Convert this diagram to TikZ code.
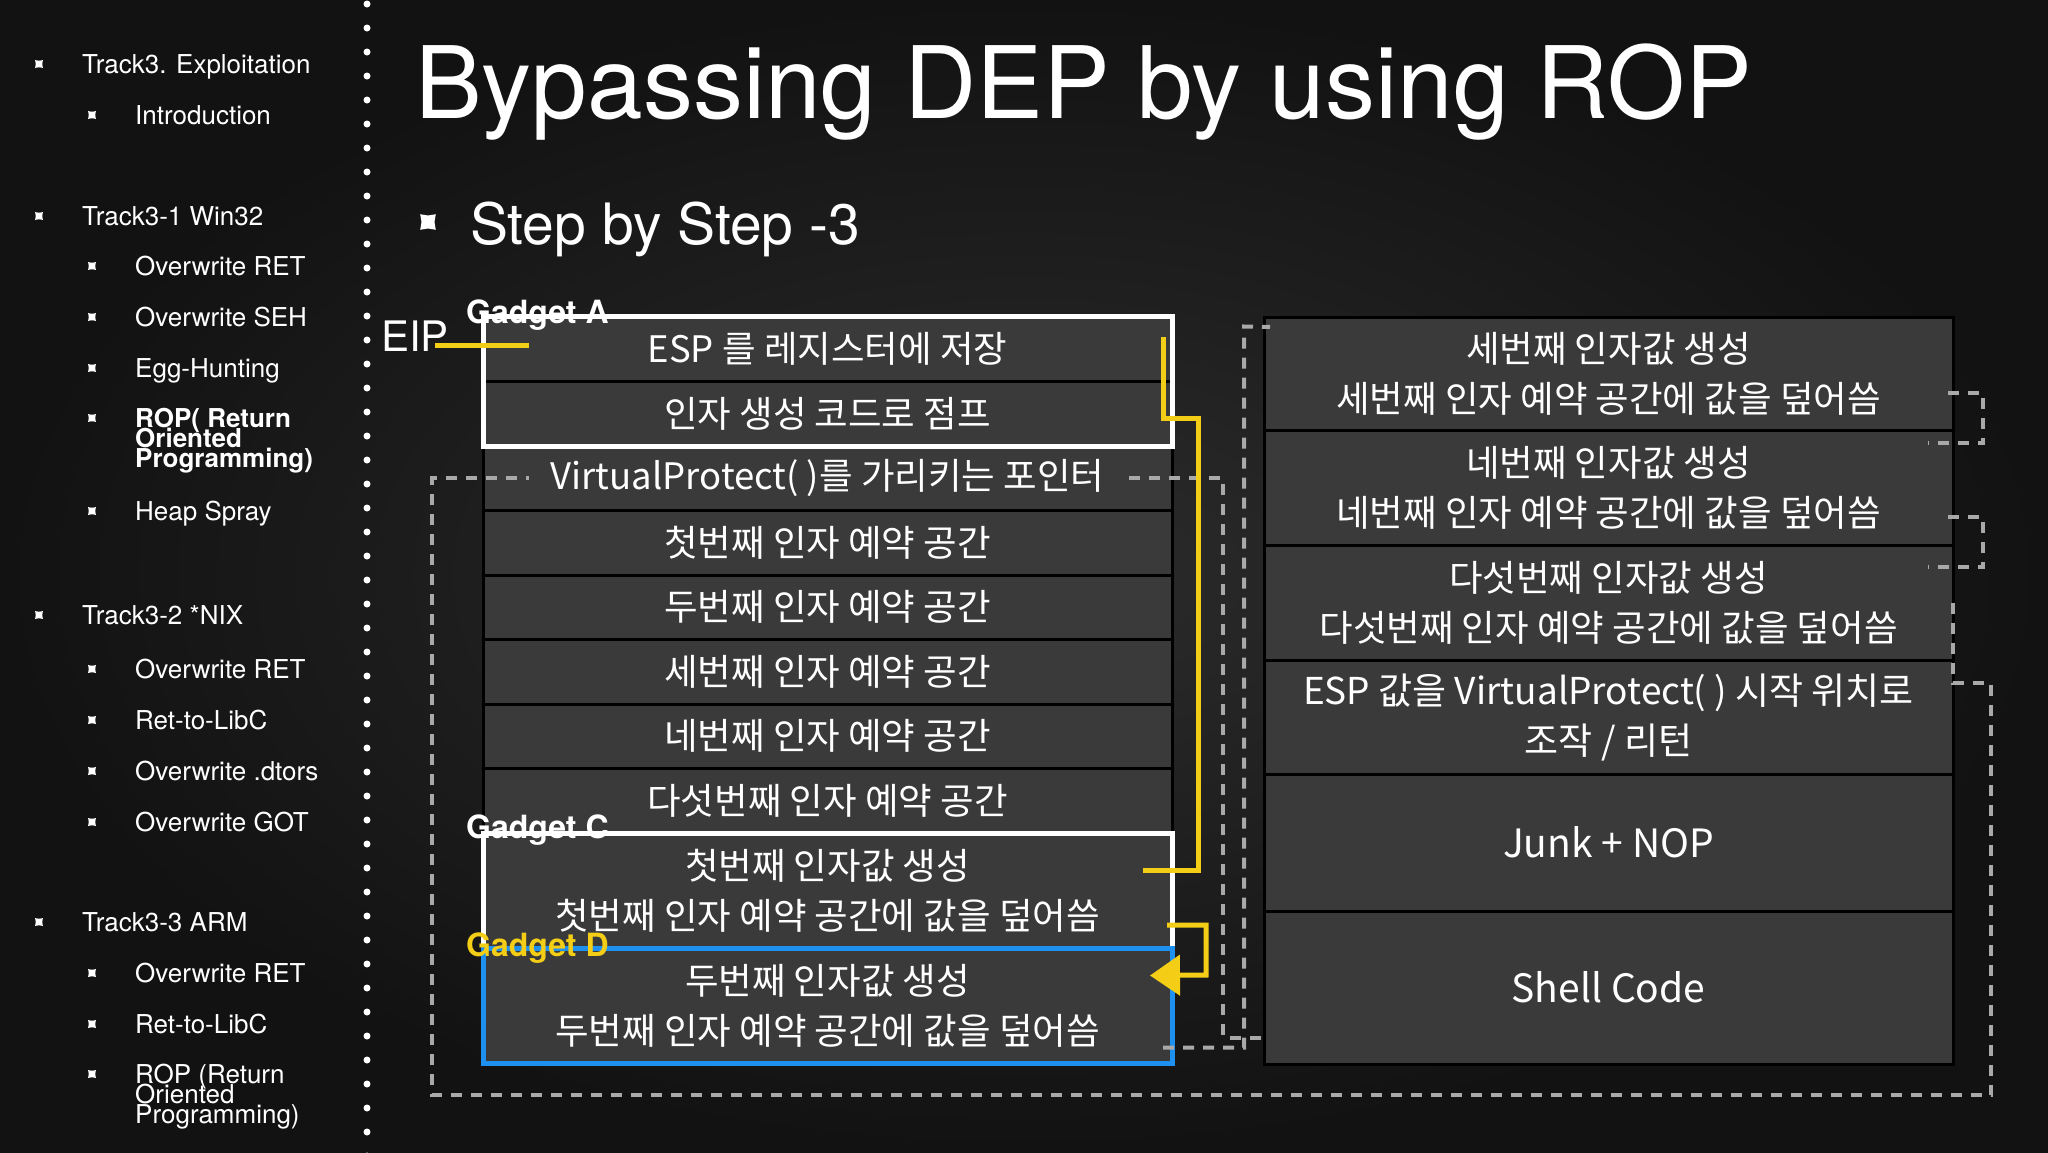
\documentclass[tikz,border=0pt]{standalone}
\usepackage{fontspec}
\setmainfont{TeX Gyre Heros}
\newfontfamily\kr{Noto Sans CJK KR}
\usetikzlibrary{positioning, arrows.meta, shapes.geometric}
\definecolor{bgdark}{HTML}{121212}
\definecolor{bgmid}{HTML}{2C2C2C}
\definecolor{rowgray}{HTML}{3A3A3A}
\definecolor{linkgray}{HTML}{A9A9A9}
\definecolor{chalkyellow}{HTML}{F4CE16}
\definecolor{gadgetblue}{HTML}{1E90F0}
\newcommand\tightlines{\lineskiplimit-30pt\relax}

\begin{document}
\begin{tikzpicture}[x=1pt, y=-1pt,
    cell/.style={draw=black, line width=3pt, fill=rowgray, minimum width=689pt,
      outer sep=0pt, inner sep=0pt, align=center, text=white,
      font=\kr\fontsize{36.5}{50}\selectfont},
    bul/.style={star, star points=4, star point ratio=1.7, shape border rotate=45,
      fill=white, inner sep=0pt, minimum size=11pt},
    item/.style={anchor=base west, text=white, inner sep=0pt,
      font=\fontsize{26}{20}\selectfont\tightlines},
    tag/.style={anchor=west, inner sep=0pt, font=\bfseries\fontsize{32}{32}\selectfont},
    link/.style={draw=linkgray, line width=4pt, dash pattern=on 11pt off 9pt},
    chalk/.style={draw=chalkyellow, line width=5pt}]

        \useasboundingbox (0,0) rectangle (2048,1152);
        \shade[inner color=bgmid, outer color=bgdark] (0,0) rectangle (2048,1152);

        % Sidebar
        \foreach \n/\y/\txt in {1/73/Track3. Exploitation, 2/225/Track3-1 Win32,
                                3/624/Track3-2 *NIX, 4/931/Track3-3 ARM}
          {\node[bul] (ba\n) at (39,\y-9) {};
           \node[item] (ta\n) at (82,\y) {\txt};}
        \foreach \n/\y/\txt in {1/124/Introduction, 2/275/Overwrite RET, 3/326/Overwrite SEH,
                                4/377/Egg-Hunting, 5/520/Heap Spray, 6/678/Overwrite RET,
                                7/729/Ret-to-LibC, 8/780/Overwrite .dtors, 9/831/Overwrite GOT,
                                10/982/Overwrite RET, 11/1033/Ret-to-LibC}
          {\node[bul] (bb\n) at (92,\y-9) {};
           \node[item] (tb\n) at (135,\y) {\txt};}
        \node[bul] (bb12) at (92,418) {};
        \node[item, anchor=north west, align=left,
              font=\bfseries\fontsize{26}{20}\selectfont\tightlines] (tb12) at (135,408)
              {ROP( Return\\Oriented\\Programming)};
        \node[bul] (bb13) at (92,1074) {};
        \node[item, anchor=north west, align=left] (tb13) at (135,1064)
              {ROP (Return\\Oriented\\Programming)};
        \draw[white, line width=7pt, line cap=round, dash pattern=on 0pt off 24pt]
              (367,4) -- (367,1160);

        % Title
        \node[anchor=base west, inner sep=0pt, text=white,
              font=\fontsize{100}{100}\selectfont] (title) at (415,118)
              {Bypassing DEP by using ROP};
        \node[bul, minimum size=22pt] (stepbul) at (428,222) {};
        \node[anchor=base west, inner sep=0pt, text=white,
              font=\fontsize{57}{57}\selectfont] (step) at (470,244) {Step by Step -3};
        \node[anchor=base west, inner sep=0pt, text=white,
              font=\fontsize{42}{42}\selectfont] (eip) at (381,351) {EIP};

        % Stack, left column
        \node[cell, anchor=north west, minimum height=65pt] (a1) at (483,316) {ESP 를 레지스터에 저장};
        \node[cell, below=0pt of a1, minimum height=65pt] (a2) {인자 생성 코드로 점프};
        \node[cell, below=0pt of a2, minimum height=64.5pt] (p0) {VirtualProtect( )를 가리키는 포인터};
        \node[cell, below=0pt of p0, minimum height=64.5pt] (s1) {첫번째 인자 예약 공간};
        \node[cell, below=0pt of s1, minimum height=64.5pt] (s2) {두번째 인자 예약 공간};
        \node[cell, below=0pt of s2, minimum height=64.5pt] (s3) {세번째 인자 예약 공간};
        \node[cell, below=0pt of s3, minimum height=64.5pt] (s4) {네번째 인자 예약 공간};
        \node[cell, below=0pt of s4, minimum height=64.5pt] (s5) {다섯번째 인자 예약 공간};
        \node[cell, below=0pt of s5, minimum height=115pt] (gc) {첫번째 인자값 생성\\첫번째 인자 예약 공간에 값을 덮어씀};
        \node[cell, below=0pt of gc, minimum height=115pt] (gd) {두번째 인자값 생성\\두번째 인자 예약 공간에 값을 덮어씀};

        % Stack, right column
        \node[cell, anchor=north west, minimum height=113pt] (e1) at (1264,317) {세번째 인자값 생성\\세번째 인자 예약 공간에 값을 덮어씀};
        \node[cell, below=0pt of e1, minimum height=115pt] (e2) {네번째 인자값 생성\\네번째 인자 예약 공간에 값을 덮어씀};
        \node[cell, below=0pt of e2, minimum height=115pt] (e3) {다섯번째 인자값 생성\\다섯번째 인자 예약 공간에 값을 덮어씀};
        \node[cell, below=0pt of e3, minimum height=114pt,
              font=\kr\fontsize{37}{50}\selectfont] (e4) {ESP 값을 VirtualProtect( ) 시작 위치로\\조작 / 리턴};
        \node[cell, below=0pt of e4, minimum height=137pt,
              font=\kr\fontsize{39}{40}\selectfont] (e5) {Junk + NOP};
        \node[cell, below=0pt of e5, minimum height=153pt,
              font=\kr\fontsize{39}{40}\selectfont] (e6) {Shell Code};

        % Gadgets
        \draw[white, line width=5pt] (a1.north west) rectangle (a2.south east);
        \draw[white, line width=5pt] (gc.north west) rectangle (gc.south east);
        \draw[gadgetblue, line width=5pt] (gd.north west) rectangle (gd.south east);
        \node[tag, text=white] (tagA) at (466,315) {Gadget A};
        \node[tag, text=white] (tagC) at (466,830) {Gadget C};
        \node[tag, text=chalkyellow] (tagD) at (466,948) {Gadget D};

        % Dashed links
        \draw[link] ([shift={(-5pt,-19pt)}]e1.east) -- ++(35,0) |- ([shift={(-25pt,-13pt)}]e2.north east);
        \draw[link] ([shift={(-5pt,-29pt)}]e2.east) -- ++(35,0) |- ([shift={(-25pt,-22pt)}]e3.north east);
        \draw[link] (e3.east) |- ([shift={(38pt,-23pt)}]e4.north east) |- (432,1095) |- ([xshift=46pt]p0.west);
        \draw[link] ([xshift=-43pt]p0.east) -- ++(94,0) |- ([shift={(4pt,-50pt)}]e6.west);
        \draw[link] ([shift={(-9pt,-42pt)}]gd.east) -| ++(81,-721) -- ([shift={(6pt,-10pt)}]e1.north west);

        % Yellow flow
        \draw[chalk] ([shift={(-14pt,6pt)}]eip.base east) -- ++(94,0);
        \draw[chalk] ([shift={(-9pt,-21pt)}]a1.north east) |- ++(35,81) |- ([shift={(-29pt,20pt)}]gc.east);
        \draw[chalk, -{Triangle[length=30pt, width=40pt]}]
              ([shift={(-5pt,23pt)}]gc.south east) -| ++(39,50) -- ([shift={(-22pt,30pt)}]gd.east);

    \end{tikzpicture}
\end{document}
